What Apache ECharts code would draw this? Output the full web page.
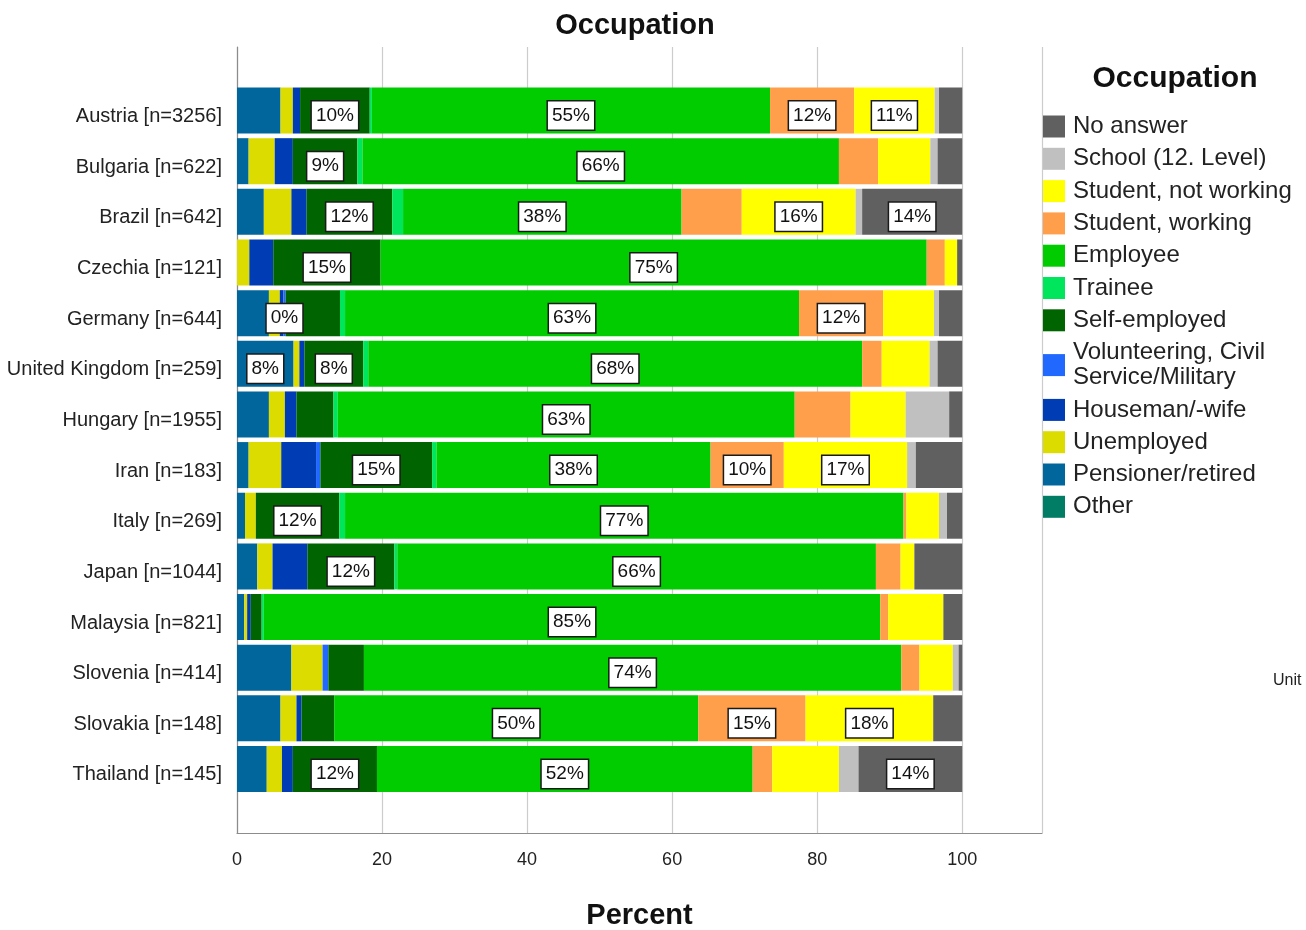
<!DOCTYPE html>
<html>
<head>
<meta charset="utf-8">
<script src="https://cdn.jsdelivr.net/npm/echarts@6/dist/echarts.min.js"></script>
<style>
html,body{margin:0;padding:0;background:#fff;}
#chart{width:1306px;height:930px;}
</style>
</head>
<body>
<div id="chart"></div>
<script>
// ---------- DATA ----------
var countries = ['Austria [n=3256]','Bulgaria [n=622]','Brazil [n=642]','Czechia [n=121]','Germany [n=644]','United Kingdom [n=259]','Hungary [n=1955]','Iran [n=183]','Italy [n=269]','Japan [n=1044]','Malaysia [n=821]','Slovenia [n=414]','Slovakia [n=148]','Thailand [n=145]'];

var other        = [0,0,0,0,0,0,0,0,0,0,0,0,0,0];
var pensioner    = [6.0,1.6,3.7,0,4.4,7.8,4.4,1.6,1.1,2.8,1.0,7.5,6.0,4.1];
var unemployed   = [1.7,3.6,3.8,1.7,1.5,0.8,2.2,4.5,1.5,2.1,0.4,4.3,2.2,2.1];
var houseman     = [1.0,2.5,2.1,3.3,0.5,0.7,1.6,4.8,0,4.8,0.5,0,0.7,1.5];
var volunteering = [0,0,0,0,0.3,0,0,0.6,0,0,0,0.8,0,0];
var selfEmployed = [9.6,8.9,11.8,14.8,7.5,8.1,5.1,15.4,11.5,12.0,1.5,4.9,4.5,11.6];
var trainee      = [0.3,0.7,1.5,0,0.7,0.7,0.6,0.6,0.8,0.4,0.3,0,0,0];
var employee     = [54.9,65.7,38.4,75.3,62.6,68.1,63.0,37.8,77.0,66.0,85.0,74.1,50.2,51.8];
var studWorking  = [11.6,5.4,8.3,2.5,11.6,2.7,7.7,10.1,0.4,3.4,1.1,2.5,14.8,2.7];
var studNotWork  = [11.1,7.2,15.7,1.7,7.0,6.6,7.6,17.0,4.5,1.9,7.6,4.6,17.6,9.2];
var school       = [0.6,1.0,0.9,0,0.7,1.1,6.0,1.2,1.1,0,0,0.8,0,2.7];
var noAnswer     = [3.2,3.4,13.8,0.7,3.2,3.4,1.8,6.4,2.1,6.6,2.6,0.5,4.0,14.3];

// rows (country indices) whose segment carries a value label
var lblPensioner    = [5];
var lblVolunteering = [4];
var lblSelf         = [0,1,2,3,5,7,8,9,13];
var lblEmployee     = [0,1,2,3,4,5,6,7,8,9,10,11,12,13];
var lblStudWorking  = [0,4,7,12];
var lblStudNotWork  = [0,2,7,12];
var lblNoAnswer     = [2,13];

var xTicks = [0,20,40,60,80,100];

// ---------- CHART ----------
var seriesDefs = [
  {name:'Other', data:other, color:'#007d64', lbl:[]},
  {name:'Pensioner/retired', data:pensioner, color:'#00669c', lbl:lblPensioner},
  {name:'Unemployed', data:unemployed, color:'#dcdc00', lbl:[]},
  {name:'Houseman/-wife', data:houseman, color:'#003cb4', lbl:[]},
  {name:'Volunteering, Civil\nService/Military', data:volunteering, color:'#2168ff', lbl:lblVolunteering},
  {name:'Self-employed', data:selfEmployed, color:'#006400', lbl:lblSelf},
  {name:'Trainee', data:trainee, color:'#00e65c', lbl:[]},
  {name:'Employee', data:employee, color:'#00cc00', lbl:lblEmployee},
  {name:'Student, working', data:studWorking, color:'#ff9f4b', lbl:lblStudWorking},
  {name:'Student, not working', data:studNotWork, color:'#ffff00', lbl:lblStudNotWork},
  {name:'School (12. Level)', data:school, color:'#c0c0c0', lbl:[]},
  {name:'No answer', data:noAnswer, color:'#606060', lbl:lblNoAnswer}
];

var FONT = '"Liberation Sans", Arial, sans-serif';

var series = seriesDefs.map(function(d){
  return {
    name: d.name,
    type: 'bar',
    stack: 'total',
    xAxisIndex: 1,
    yAxisIndex: 1,
    barWidth: 46,
    itemStyle: {color: d.color},
    label: {
      show: false,
      position: 'inside',
      offset: [0, 5],
      formatter: function(p){ return Math.round(p.value) + '%'; },
      backgroundColor: '#ffffff',
      borderColor: '#1a1a1a',
      borderWidth: 1.5,
      padding: [5,4,4,4],
      color: '#111',
      fontSize: 19,
      fontFamily: FONT
    },
    data: d.data.map(function(v,i){
      if (d.lbl.indexOf(i) >= 0) return {value: v, label: {show: true}};
      return v;
    })
  };
});

var chart = echarts.init(document.getElementById('chart'), null, {renderer:'canvas'});
chart.setOption({
  animation: false,
  backgroundColor: '#ffffff',
  title: [
    {text:'Occupation', left: 630, top: 6, textAlign:'center',
     textStyle:{fontSize:29, fontWeight:'bold', color:'#111', fontFamily:FONT}},
    {text:'Occupation', left: 1170, top: 59, textAlign:'center',
     textStyle:{fontSize:30, fontWeight:'bold', color:'#111', fontFamily:FONT}}
  ],
  legend: {
    orient: 'vertical',
    left: 1043,
    top: 114,
    padding: 0,
    itemWidth: 22,
    itemHeight: 22,
    itemGap: 7.3,
    icon: 'rect',
    data: seriesDefs.slice().reverse().map(function(d){return d.name;}),
    textStyle: {fontSize: 24, color:'#222', fontFamily: FONT, lineHeight: 25, padding:[0,0,0,3]},
    selectedMode: false
  },
  grid: [
    {left: 237, right: 264, top: 47, bottom: 97, outerBoundsMode: 'none', containLabel: false},
    {left: 237, right: 264, top: 85.2, bottom: 135.7, outerBoundsMode: 'none', containLabel: false},
    {left: 237, right: 264, top: 91.2, bottom: 129.7, outerBoundsMode: 'none', containLabel: false}
  ],
  xAxis: [
    {gridIndex:0, type:'value', min:0, max:111, interval:20,
     axisLine:{show:true, lineStyle:{color:'#8c8c8c', width:1.2}},
     axisTick:{show:false},
     splitLine:{show:true, lineStyle:{color:'#cccccc', width:1.2}},
     axisLabel:{fontSize:18, color:'#222', margin:18, fontFamily:FONT,
       formatter:function(v){ return xTicks.indexOf(v) >= 0 ? String(v) : ''; }},
     name:'Percent', nameLocation:'middle', nameGap:68,
     nameTextStyle:{fontSize:29, fontWeight:'bold', color:'#111', fontFamily:FONT}},
    {gridIndex:1, type:'value', min:0, max:111, show:false, splitLine:{show:false}},
    {gridIndex:2, type:'value', min:0, max:111, show:false, splitLine:{show:false}}
  ],
  yAxis: [
    {gridIndex:0, type:'value', min:0, max:1,
     axisLine:{show:true, lineStyle:{color:'#8c8c8c', width:1.2}},
     axisTick:{show:false}, axisLabel:{show:false}, splitLine:{show:false}},
    {gridIndex:1, type:'category', data: countries, inverse:true,
     axisLine:{show:false}, axisTick:{show:false}, splitLine:{show:false},
     axisLabel:{show:false}},
    {gridIndex:2, type:'category', data: countries, inverse:true,
     axisLine:{show:false}, axisTick:{show:false}, splitLine:{show:false},
     axisLabel:{fontSize:20, color:'#222', margin:15, fontFamily:FONT}}
  ],
  graphic: [
    {type:'text', left: 1273, top: 673,
     style:{text:'Unit', fontSize:16, fill:'#222', fontFamily:FONT}}
  ],
  series: series
});
</script>
</body>
</html>
